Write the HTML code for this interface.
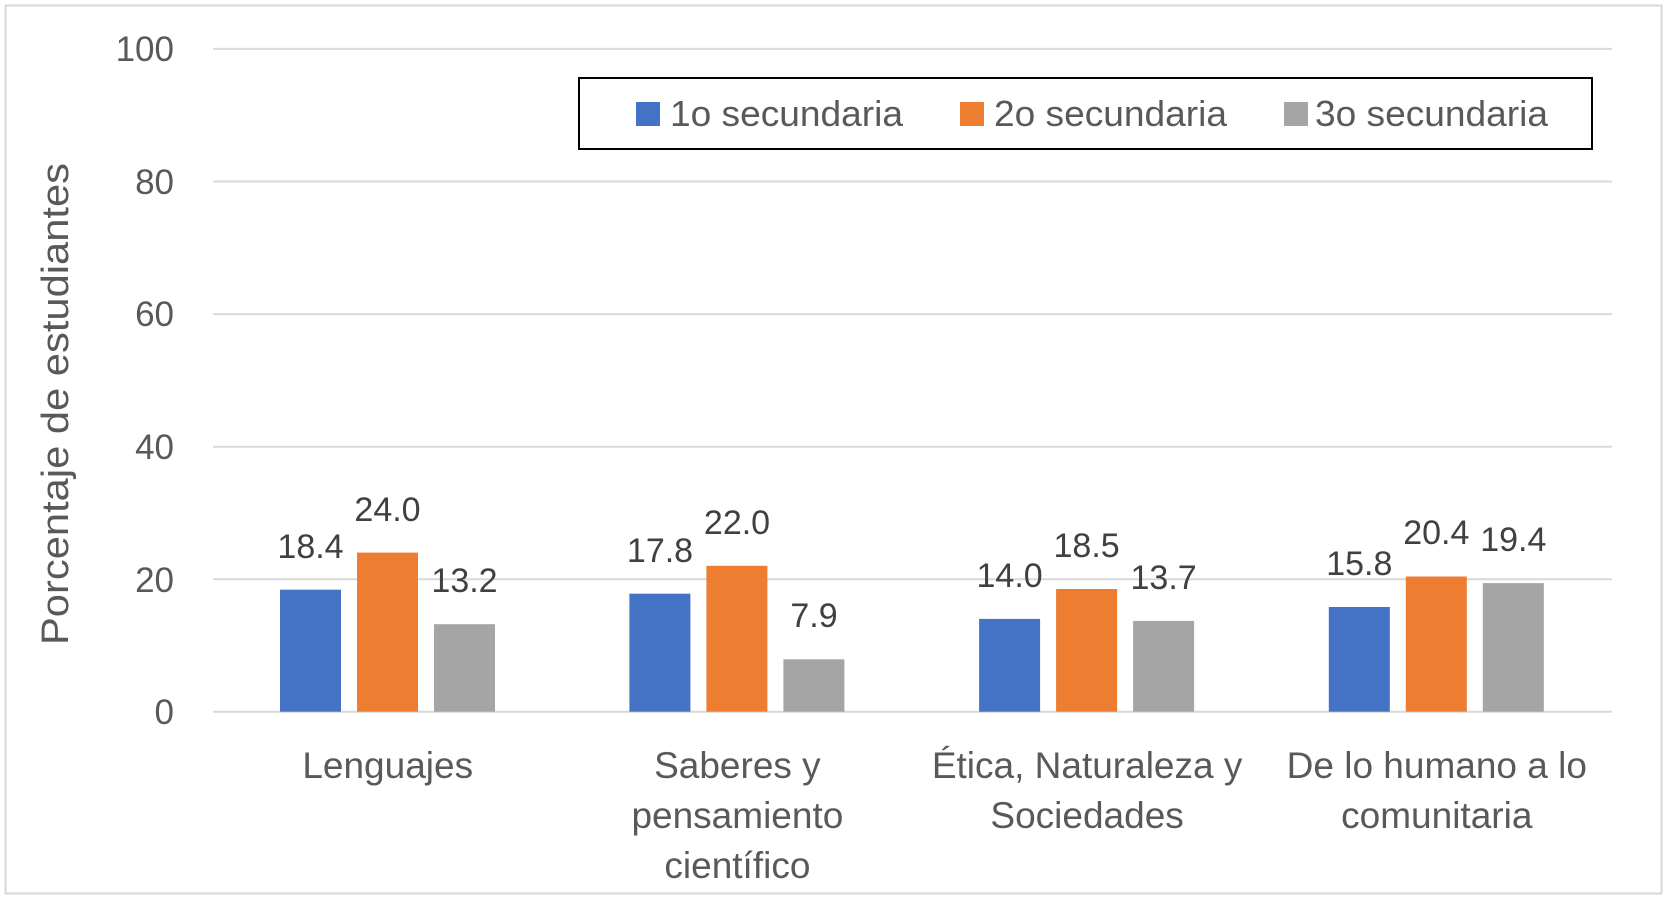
<!DOCTYPE html>
<html><head><meta charset="utf-8"><style>
html,body{margin:0;padding:0;background:#fff;}
svg{display:block;font-family:"Liberation Sans",sans-serif;}
</style></head><body>
<svg width="1668" height="907" viewBox="0 0 1668 907" xmlns="http://www.w3.org/2000/svg">
<rect x="5.5" y="5.5" width="1656" height="888" fill="#fff" stroke="#d9d9d9" stroke-width="2"/>
<g stroke="#d9d9d9" stroke-width="2">
<line x1="213" x2="1612" y1="48.9" y2="48.9"/>
<line x1="213" x2="1612" y1="181.5" y2="181.5"/>
<line x1="213" x2="1612" y1="314.1" y2="314.1"/>
<line x1="213" x2="1612" y1="446.7" y2="446.7"/>
<line x1="213" x2="1612" y1="579.3" y2="579.3"/>
<line x1="213" x2="1612" y1="711.7" y2="711.7"/>
</g>
<g fill="#595959" font-size="35" text-anchor="end">
<text x="174" y="61">100</text>
<text x="174" y="194">80</text>
<text x="174" y="326">60</text>
<text x="174" y="459">40</text>
<text x="174" y="592">20</text>
<text x="174" y="724">0</text>
</g>
<text transform="translate(68,404) rotate(-90)" text-anchor="middle" fill="#595959" font-size="38" textLength="482" lengthAdjust="spacingAndGlyphs">Porcentaje de estudiantes</text>
<g font-size="34" fill="#404040" text-anchor="middle">
<rect x="280" y="589.7" width="61" height="122" fill="#4472c4"/>
<rect x="357" y="552.6" width="61" height="159.1" fill="#ed7d31"/>
<rect x="434" y="624.2" width="61" height="87.5" fill="#a5a5a5"/>
<text x="310.5" y="558">18.4</text><text x="387.5" y="521">24.0</text><text x="464.5" y="592">13.2</text>
<rect x="629.4" y="593.7" width="61" height="118" fill="#4472c4"/>
<rect x="706.4" y="565.8" width="61" height="145.9" fill="#ed7d31"/>
<rect x="783.4" y="659.3" width="61" height="52.4" fill="#a5a5a5"/>
<text x="660" y="562">17.8</text><text x="737" y="534">22.0</text><text x="814" y="627">7.9</text>
<rect x="979.1" y="618.9" width="61" height="92.8" fill="#4472c4"/>
<rect x="1056.1" y="589" width="61" height="122.7" fill="#ed7d31"/>
<rect x="1133.1" y="620.9" width="61" height="90.8" fill="#a5a5a5"/>
<text x="1009.6" y="587">14.0</text><text x="1086.6" y="557">18.5</text><text x="1163.6" y="589">13.7</text>
<rect x="1328.8" y="607" width="61" height="104.7" fill="#4472c4"/>
<rect x="1405.8" y="576.5" width="61" height="135.2" fill="#ed7d31"/>
<rect x="1482.8" y="583.1" width="61" height="128.6" fill="#a5a5a5"/>
<text x="1359.3" y="575">15.8</text><text x="1436.3" y="544">20.4</text><text x="1513.3" y="551">19.4</text>
</g>
<g font-size="37" fill="#595959" text-anchor="middle">
<text x="387.7" y="778">Lenguajes</text>
<text x="737.4" y="778">Saberes y</text>
<text x="737.4" y="828">pensamiento</text>
<text x="737.4" y="878">científico</text>
<text x="1087.1" y="778">Ética, Naturaleza y</text>
<text x="1087.1" y="828">Sociedades</text>
<text x="1436.8" y="778">De lo humano a lo</text>
<text x="1436.8" y="828">comunitaria</text>
</g>
<rect x="579" y="78" width="1013" height="71" fill="#fff" stroke="#000" stroke-width="2"/>
<rect x="636" y="102" width="24" height="24" fill="#4472c4"/>
<rect x="960" y="102" width="24" height="24" fill="#ed7d31"/>
<rect x="1284" y="102" width="24" height="24" fill="#a5a5a5"/>
<g font-size="36" fill="#595959">
<text x="670" y="126" textLength="233" lengthAdjust="spacingAndGlyphs">1o secundaria</text>
<text x="994" y="126" textLength="233" lengthAdjust="spacingAndGlyphs">2o secundaria</text>
<text x="1315" y="126" textLength="233" lengthAdjust="spacingAndGlyphs">3o secundaria</text>
</g>
</svg>
</body></html>
